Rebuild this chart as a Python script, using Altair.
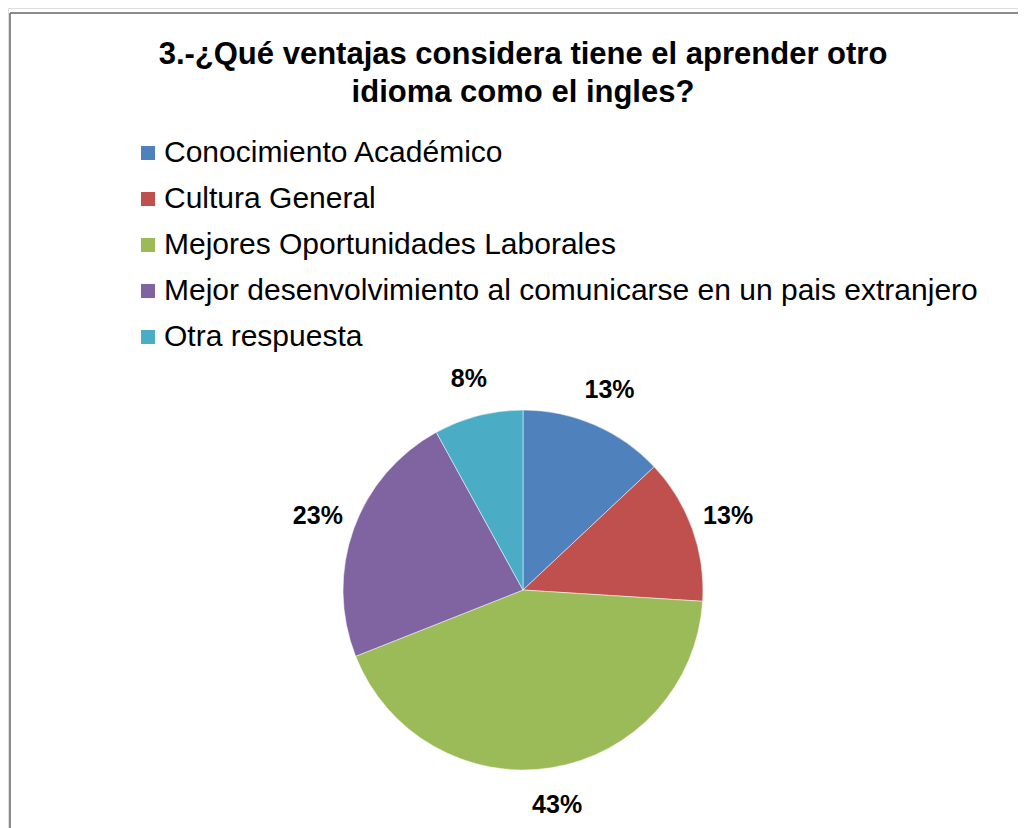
import altair as alt
import pandas as pd

categories = [
    "Conocimiento Académico",
    "Cultura General",
    "Mejores Oportunidades Laborales",
    "Mejor desenvolvimiento al comunicarse en un pais extranjero",
    "Otra respuesta",
]
values = [13, 13, 43, 23, 8]
labels = ["13%", "13%", "43%", "23%", "8%"]
colors = ["#4F81BD", "#C0504D", "#9BBB59", "#8064A2", "#4BACC6"]

df = pd.DataFrame({"categoria": categories, "valor": values, "etiqueta": labels,
                   "orden": list(range(len(categories)))})

FONT = "Liberation Sans"
CX, CY, R = 515, 582, 180

base = alt.Chart(df).encode(
    theta=alt.Theta("valor:Q", stack=True),
    order=alt.Order("orden:Q"),
)

pie = base.mark_arc(outerRadius=R, stroke="white", strokeWidth=0.5).encode(
    x=alt.value(CX), y=alt.value(CY),
    color=alt.Color(
        "categoria:N",
        scale=alt.Scale(domain=categories, range=colors),
        sort=categories,
        legend=alt.Legend(
            title=None, orient="none", legendX=125, legendY=130,
            symbolType="square", symbolSize=196, symbolStrokeWidth=0,
            symbolOpacity=1, labelFont=FONT, labelFontSize=30,
            labelColor="black", rowPadding=16, labelOffset=1,
            labelLimit=1000,
        ),
    ),
)

text = base.mark_text(radius=R + 38, font=FONT, fontSize=25, fontWeight="bold",
                      color="black").encode(
    x=alt.value(CX), y=alt.value(CY), text="etiqueta:N"
)

frame = pd.DataFrame({"k": [0]})
top_rule = alt.Chart(frame).mark_rule(color="#8a8a8a", strokeWidth=2).encode(
    x=alt.value(2), x2=alt.value(1010), y=alt.value(5)
)
left_rule = alt.Chart(frame).mark_rule(color="#8a8a8a", strokeWidth=2).encode(
    x=alt.value(2), y=alt.value(5), y2=alt.value(820)
)

chart = alt.layer(top_rule, left_rule, pie, text).properties(
    width=1010, height=820,
    padding=0,
    autosize=alt.AutoSizeParams(type="none"),
    title=alt.TitleParams(
        ["3.-¿Qué ventajas considera tiene el aprender otro", "idioma como el ingles?"],
        font=FONT, fontSize=31, fontWeight="bold", color="black",
        anchor="middle", baseline="top", lineHeight=38, dx=10, dy=105,
    ),
).configure_view(stroke=None).configure(background="white")

chart.save("out.html", embed_options={"renderer": "svg", "actions": False})
